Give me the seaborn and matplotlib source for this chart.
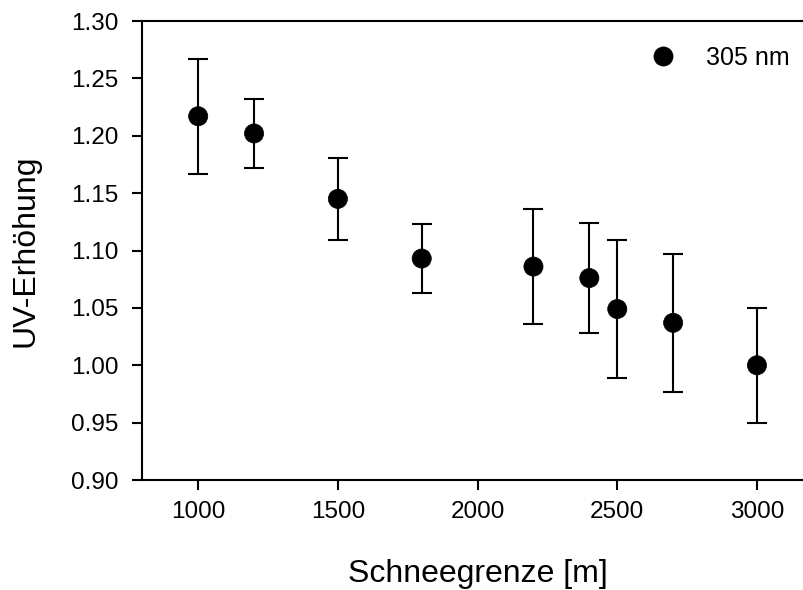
import numpy as np
import pandas as pd
import matplotlib
matplotlib.use("Agg")
import matplotlib.pyplot as plt
import seaborn as sns

# data
snow_line = [1000, 1200, 1500, 1800, 2200, 2400, 2500, 2700, 3000]
uv_increase = [1.217, 1.202, 1.145, 1.093, 1.086, 1.076, 1.049, 1.037, 1.000]
uv_error = [0.050, 0.030, 0.036, 0.030, 0.050, 0.048, 0.060, 0.060, 0.050]
series_label = "305 nm"

x_ticks = [1000, 1500, 2000, 2500, 3000]
y_ticks = [0.90, 0.95, 1.00, 1.05, 1.10, 1.15, 1.20, 1.25, 1.30]

sns.set_style("ticks")
plt.rcParams['font.family'] = ['Liberation Sans', 'DejaVu Sans']
plt.rcParams['text.color'] = 'black'
plt.rcParams['axes.labelcolor'] = 'black'

df = pd.DataFrame({"Schneegrenze": snow_line, "UV": uv_increase,
                   "err": uv_error, "label": series_label})

fig = plt.figure(figsize=(8.04, 5.9), dpi=100)
ax = fig.add_axes([0.177, 0.1864, 0.834, 0.778])

# error bars first, markers on top
ax.errorbar(df["Schneegrenze"], df["UV"], yerr=df["err"], fmt='none',
            ecolor='black', elinewidth=1.5, capsize=7.2, capthick=1.5, zorder=2)
sns.scatterplot(data=df, x="Schneegrenze", y="UV", hue="label",
                palette=["black"], s=190, edgecolor='black', linewidth=0.5,
                ax=ax, zorder=3)

ax.set_xlim(800, 3200)
ax.set_ylim(0.90, 1.30)
ax.set_xticks(x_ticks)
ax.set_yticks(y_ticks)
ax.set_yticklabels([f"{v:.2f}" for v in y_ticks])
ax.tick_params(axis='both', labelsize=17.5, length=7, width=1.5,
               color='black', labelcolor='black')
ax.tick_params(axis='x', pad=8)
ax.tick_params(axis='y', pad=10)
for side in ["left", "bottom", "top", "right"]:
    ax.spines[side].set_linewidth(1.5)
    ax.spines[side].set_color('black')

ax.set_xlabel("Schneegrenze [m]", fontsize=23, labelpad=26)
ax.set_ylabel("UV-Erhöhung", fontsize=23, labelpad=22)

ax.legend(loc='upper right', bbox_to_anchor=(1.01, 0.96),
          bbox_transform=fig.transFigure, frameon=False, fontsize=18,
          handletextpad=0.7, markerscale=1.0)

fig.savefig("out.png", dpi=100)
